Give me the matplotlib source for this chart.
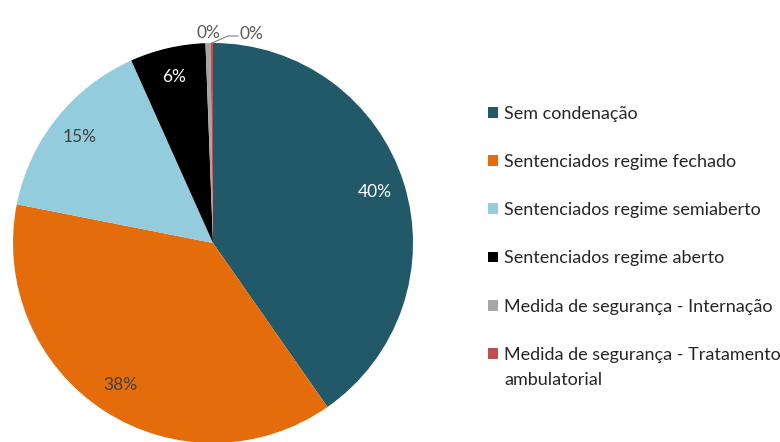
import matplotlib
matplotlib.use("Agg")
import matplotlib.pyplot as plt
import numpy as np

categories = ["Sem condenação", "Sentenciados regime fechado", "Sentenciados regime semiaberto",
              "Sentenciados regime aberto", "Medida de segurança - Internação",
              "Medida de segurança - Tratamento"]
extra_line = "ambulatorial"
values = [40.3, 37.8, 15.2, 6.1, 0.4, 0.2]
pct_labels = ["40%", "38%", "15%", "6%", "0%", "0%"]
colors = ["#215968", "#E46C0A", "#93CDDD", "#000000", "#A6A6A6", "#C0504D"]
label_colors = ["white", "#404040", "#404040", "white", "#595959", "#595959"]

plt.rcParams['font.family'] = ['Lato', 'DejaVu Sans']

fig = plt.figure(figsize=(7.8, 4.42), dpi=100)
W, H = 780, 442
cx, cy, R = 213, 243, 200
ax = fig.add_axes([(cx - R) / W, (H - cy - R) / H, 2 * R / W, 2 * R / H])
wedges, _ = ax.pie(values, colors=colors, startangle=90, counterclock=False,
                   wedgeprops=dict(linewidth=0))
ax.set_xlim(-1, 1)
ax.set_ylim(-1, 1)
ax.set_aspect("equal")
ax.axis("off")

fs = 12.5
for i, w in enumerate(wedges[:4]):
    mid = np.deg2rad((w.theta1 + w.theta2) / 2)
    r = 0.85
    ax.text(r * np.cos(mid), r * np.sin(mid), pct_labels[i], ha="center", va="center",
            color=label_colors[i], fontsize=fs)

# small slices: labels outside
ax.text(-0.025, 1.01, pct_labels[4], ha="center", va="bottom", color=label_colors[4], fontsize=fs)
w = wedges[5]
mid = np.deg2rad((w.theta1 + w.theta2) / 2)
x0, y0 = np.cos(mid), np.sin(mid)
ax.plot([x0, 0.075, 0.125], [y0, 1.035, 1.035], color="#808080", lw=0.8, clip_on=False)
ax.text(0.135, 1.045, pct_labels[5], ha="left", va="center", color=label_colors[5], fontsize=fs)

lfs = 13
leg = fig.legend(wedges, categories, loc="upper left", bbox_to_anchor=(488 / W, 1 - 106 / H),
                 frameon=False, fontsize=lfs, handlelength=0.55, handleheight=0.55,
                 handletextpad=0.35, labelspacing=1.78, borderaxespad=0, borderpad=0)
for t in leg.get_texts():
    t.set_color("#262626")

fig.canvas.draw()
last = leg.get_texts()[-1]
bb = last.get_window_extent()
fig.text(bb.x0 / W, (bb.y0 - 9) / H, extra_line, ha="left", va="top", fontsize=lfs,
         color="#262626")

fig.savefig("out.png", dpi=100)
